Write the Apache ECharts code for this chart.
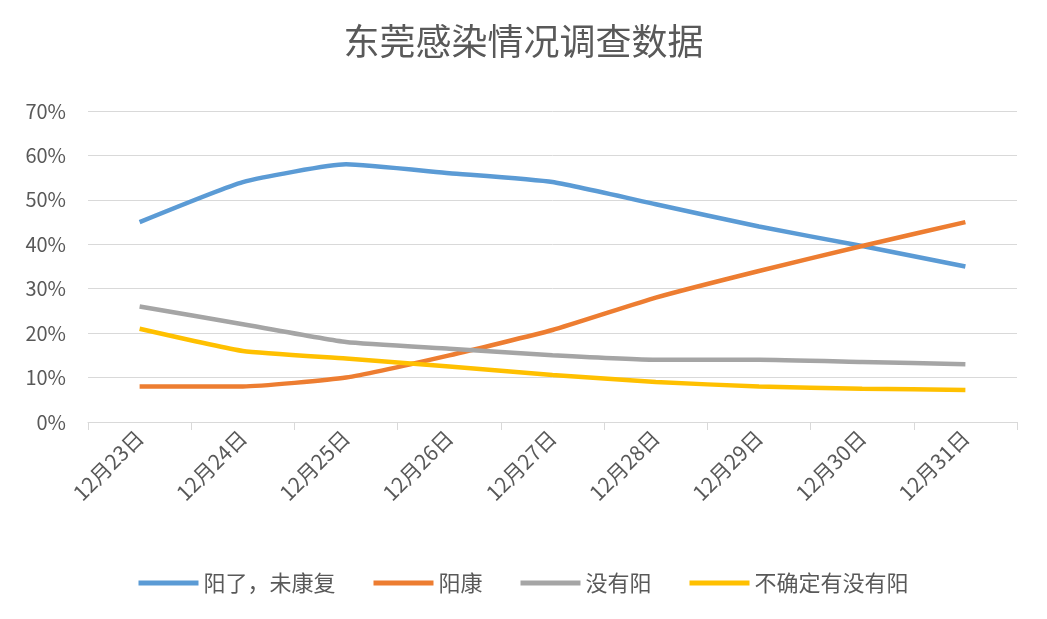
<!DOCTYPE html>
<html>
<head>
<meta charset="utf-8">
<script src="https://cdn.jsdelivr.net/npm/echarts@6/dist/echarts.min.js"></script>
<style>html,body{margin:0;padding:0;background:#fff}</style>
</head>
<body>
<div id="main" style="width:1047px;height:619px;"></div>
<script>
var days = ['12月23日','12月24日','12月25日','12月26日','12月27日','12月28日','12月29日','12月30日','12月31日'];
var notRecovered = [45, 54, 58, 56, 54, 49, 44, 39.6, 35];
var recovered = [8, 8, 10, 15, 20.7, 28, 34, 39.6, 45];
var notInfected = [26, 22, 18, 16.5, 15, 14, 14, 13.5, 13];
var unsure = [21, 16, 14.3, 12.5, 10.6, 9, 8, 7.5, 7.2];

var chart = echarts.init(document.getElementById('main'));
var font = '"Noto Sans CJK SC", sans-serif';
function line(name, data, color) {
    return {name: name, type: 'line', data: data, smooth: 0.15, symbol: 'none',
        lineStyle: {width: 4.5, color: color}, itemStyle: {color: color}};
}
chart.setOption({
    title: {text: '东莞感染情况调查数据', left: 'center', top: 18,
        textStyle: {fontFamily: font, fontSize: 36, fontWeight: 'normal', color: '#595959'}},
    legend: {bottom: 20, itemWidth: 60, itemHeight: 5, itemGap: 38, icon: 'rect',
        textStyle: {fontFamily: font, fontSize: 22, color: '#595959'}},
    grid: {left: 88, right: 30, top: 111, bottom: 197},
    xAxis: {type: 'category', data: days, boundaryGap: true,
        axisLine: {lineStyle: {color: '#d9d9d9'}},
        axisTick: {show: true, length: 8, lineStyle: {color: '#d9d9d9'}},
        axisLabel: {rotate: 45, fontFamily: font, fontSize: 21, color: '#595959', margin: 12}},
    yAxis: {type: 'value', min: 0, max: 70, interval: 10,
        axisLine: {show: false}, axisTick: {show: false},
        splitLine: {lineStyle: {color: '#d9d9d9'}},
        axisLabel: {formatter: '{value}%', fontFamily: font, fontSize: 20, color: '#595959', margin: 22}},
    series: [
        line('阳了，未康复', notRecovered, '#5b9bd5'),
        line('阳康', recovered, '#ed7d31'),
        line('没有阳', notInfected, '#a5a5a5'),
        line('不确定有没有阳', unsure, '#ffc000')
    ]
});
</script>
</body>
</html>
